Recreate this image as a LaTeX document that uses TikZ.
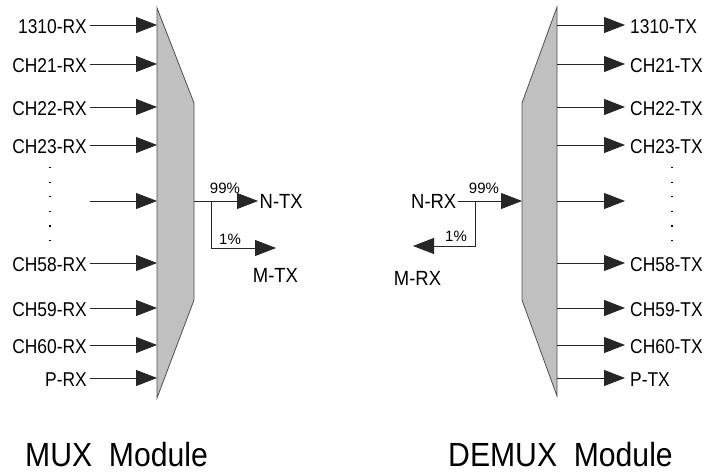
\documentclass[tikz,border=0pt]{standalone}
\usepackage{fontspec}
\setmainfont{Liberation Sans}
\newfontfamily\narrowfont{Liberation Sans}[FakeStretch=0.9]
\newfontfamily\labfont{Liberation Sans}[FakeStretch=0.87]
\usetikzlibrary{arrows.meta,positioning}
\definecolor{boxgray}{HTML}{C0C0C0}
\definecolor{edgegray}{HTML}{505050}
\tikzset{
  arr/.style={-{Triangle[length=21bp,width=16bp]},line width=0.8bp,draw=black!85},
  lab/.style={font=\labfont\fontsize{20bp}{24bp}\selectfont,text height=17.5bp,text depth=0pt,inner sep=3bp},
  labl/.style={lab,anchor=east},
  labr/.style={lab,anchor=west,inner sep=5bp},
  sig/.style={font=\narrowfont\fontsize{20.5bp}{24bp}\selectfont,inner sep=1.5bp},
  pct/.style={font=\fontsize{15bp}{18bp}\selectfont,inner sep=1bp},
  ttl/.style={font=\narrowfont\fontsize{33.5bp}{40bp}\selectfont},
  wdm/.style={fill=boxgray,draw=edgegray,line width=0.8bp}
}
\begin{document}
\begin{tikzpicture}[x=1bp,y=-1bp]
\useasboundingbox (0,0) rectangle (709,475);
%% MUX side
\draw[wdm] (157,8) -- (194,103) -- (194,300) -- (157,398) -- cycle;
\coordinate (mL) at (157,0);
\coordinate (mR) at (194,0);
\node[labl] (rx1310) at (90,25) {1310-RX};
\node[labl] (rx21) at (90,64) {CH21-RX};
\node[labl] (rx22) at (90,107) {CH22-RX};
\node[labl] (rx23) at (90,145) {CH23-RX};
\coordinate (rxn) at (90,201);
\node[labl] (rx58) at (90,263) {CH58-RX};
\node[labl] (rx59) at (90,308) {CH59-RX};
\node[labl] (rx60) at (90,345) {CH60-RX};
\node[labl] (rxp) at (90,378) {P-RX};
\draw[arr] (rx1310) -- (rx1310 -| mL);
\draw[arr] (rx21) -- (rx21 -| mL);
\draw[arr] (rx22) -- (rx22 -| mL);
\draw[arr] (rx23) -- (rx23 -| mL);
\draw[arr] (rxn) -- (rxn -| mL);
\draw[arr] (rx58) -- (rx58 -| mL);
\draw[arr] (rx59) -- (rx59 -| mL);
\draw[arr] (rx60) -- (rx60 -| mL);
\draw[arr] (rxp) -- (rxp -| mL);
\draw[line width=1.3bp,dash pattern=on 1.3bp off 13.3bp] (50,167) -- (50,242);
% tap 99/1
\node[sig,anchor=west] (ntx) at (258,201) {N-TX};
\draw[arr] (ntx -| mR) -- (ntx);
\node[pct] (mp99) at (225,188) {99\%};
\coordinate (msp) at (211,201);
\coordinate (mtip) at (276,248);
\draw[arr] (msp) |- (mtip);
\node[pct] (mp1) at (230,239.5) {1\%};
\node[sig] (mtx) at (275.5,275.5) {M-TX};
\node[ttl] (muxt) at (116.5,455) {MUX\ \ Module};
%% DEMUX side
\draw[wdm] (557,7) -- (557,396) -- (522,300) -- (522,103) -- cycle;
\coordinate (dL) at (522,0);
\coordinate (dR) at (557,0);
\node[labr] (tx1310) at (625,25) {1310-TX};
\node[labr] (tx21) at (625,64) {CH21-TX};
\node[labr] (tx22) at (625,107) {CH22-TX};
\node[labr] (tx23) at (625,145) {CH23-TX};
\coordinate (txn) at (625,201);
\node[labr] (tx58) at (625,263) {CH58-TX};
\node[labr] (tx59) at (625,308) {CH59-TX};
\node[labr] (tx60) at (625,345) {CH60-TX};
\node[labr] (txp) at (625,378) {P-TX};
\draw[arr] (tx1310 -| dR) -- (tx1310);
\draw[arr] (tx21 -| dR) -- (tx21);
\draw[arr] (tx22 -| dR) -- (tx22);
\draw[arr] (tx23 -| dR) -- (tx23);
\draw[arr] (txn -| dR) -- (txn);
\draw[arr] (tx58 -| dR) -- (tx58);
\draw[arr] (tx59 -| dR) -- (tx59);
\draw[arr] (tx60 -| dR) -- (tx60);
\draw[arr] (txp -| dR) -- (txp);
\draw[line width=1.3bp,dash pattern=on 1.3bp off 13.3bp] (672,167) -- (672,242);
% tap 99/1
\node[sig,anchor=east] (nrx) at (458,201) {N-RX};
\draw[arr] (nrx) -- (nrx -| dL);
\node[pct] (dp99) at (484,188) {99\%};
\coordinate (dsp) at (475,201);
\coordinate (dtip) at (413,246);
\draw[arr] (dsp) |- (dtip);
\node[pct] (dp1) at (456,236) {1\%};
\node[sig] (mrx) at (417.5,278) {M-RX};
\node[ttl] (demuxt) at (560.5,455) {DEMUX\ \ Module};
\end{tikzpicture}
\end{document}
